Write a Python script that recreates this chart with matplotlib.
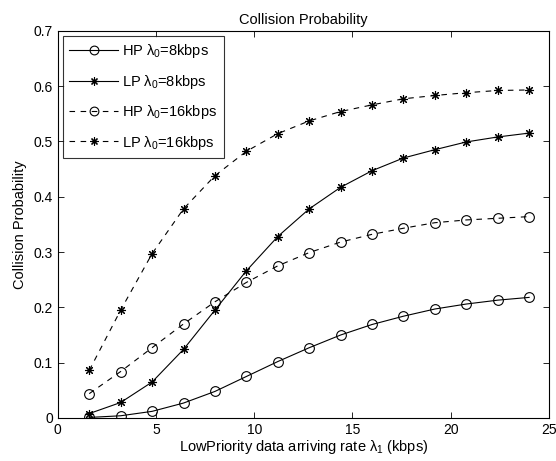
import matplotlib
matplotlib.use("Agg")
import matplotlib.pyplot as plt

plt.rcParams['font.family'] = ['Liberation Sans', 'DejaVu Sans']
plt.rcParams['mathtext.fontset'] = 'custom'
plt.rcParams['mathtext.rm'] = 'Liberation Sans'
plt.rcParams['mathtext.it'] = 'Liberation Sans'

x = [1.6, 3.2, 4.8, 6.4, 8.0, 9.6, 11.2, 12.8, 14.4, 16.0, 17.6, 19.2, 20.8, 22.4, 24.0]
hp8 = [0.001, 0.004, 0.012, 0.027, 0.048, 0.075, 0.102, 0.127, 0.150, 0.169, 0.184, 0.197, 0.206, 0.213, 0.218]
lp8 = [0.008, 0.028, 0.065, 0.124, 0.195, 0.266, 0.328, 0.378, 0.417, 0.447, 0.470, 0.485, 0.499, 0.508, 0.515]
hp16 = [0.044, 0.084, 0.127, 0.170, 0.210, 0.245, 0.275, 0.299, 0.318, 0.332, 0.343, 0.353, 0.358, 0.361, 0.364]
lp16 = [0.086, 0.195, 0.297, 0.378, 0.438, 0.482, 0.514, 0.537, 0.554, 0.566, 0.577, 0.583, 0.588, 0.592, 0.593]
labels = [r'HP $\lambda_0$=8kbps', r'LP $\lambda_0$=8kbps', r'HP $\lambda_0$=16kbps', r'LP $\lambda_0$=16kbps']

fig = plt.figure(figsize=(5.56, 4.61), dpi=100)
ax = fig.add_axes([0.104, 0.0933, 0.883, 0.84])

star = (8, 2, 0)
kw = dict(color='black', linewidth=0.8, markerfacecolor='none', markeredgecolor='black', markeredgewidth=0.8)
ax.plot(x, hp8, '-', marker='o', markersize=7, label=labels[0], **kw)
ax.plot(x, lp8, '-', marker=star, markersize=6.5, label=labels[1], **kw)
ax.plot(x, hp16, '--', marker='o', markersize=7, label=labels[2], dashes=(5, 5), **kw)
ax.plot(x, lp16, '--', marker=star, markersize=6.5, label=labels[3], dashes=(5, 5), **kw)

ax.set_xlim(0, 25)
ax.set_ylim(0, 0.7)
ax.set_xticks([0, 5, 10, 15, 20, 25])
ax.set_yticks([0, 0.1, 0.2, 0.3, 0.4, 0.5, 0.6, 0.7])
ax.set_yticklabels(['0', '0.1', '0.2', '0.3', '0.4', '0.5', '0.6', '0.7'])
ax.tick_params(direction='in', top=True, right=True, labelsize=10, length=4, width=0.6)
for s in ax.spines.values():
    s.set_linewidth(0.8)

ax.set_title('Collision Probability', fontsize=10.5, pad=5)
ax.set_xlabel(r'LowPriority data arriving rate $\lambda_1$ (kbps)', fontsize=10.5, labelpad=1)
ax.set_ylabel('Collision Probability', fontsize=10.5, labelpad=5)

leg = ax.legend(loc='upper left', fontsize=10.5, frameon=True, fancybox=False,
                edgecolor='black', handlelength=3.3, borderpad=0.45, labelspacing=0.85,
                handletextpad=0.3, borderaxespad=0.35, markerscale=0.9)
leg.get_frame().set_linewidth(0.8)

fig.savefig('out.png', dpi=100)
